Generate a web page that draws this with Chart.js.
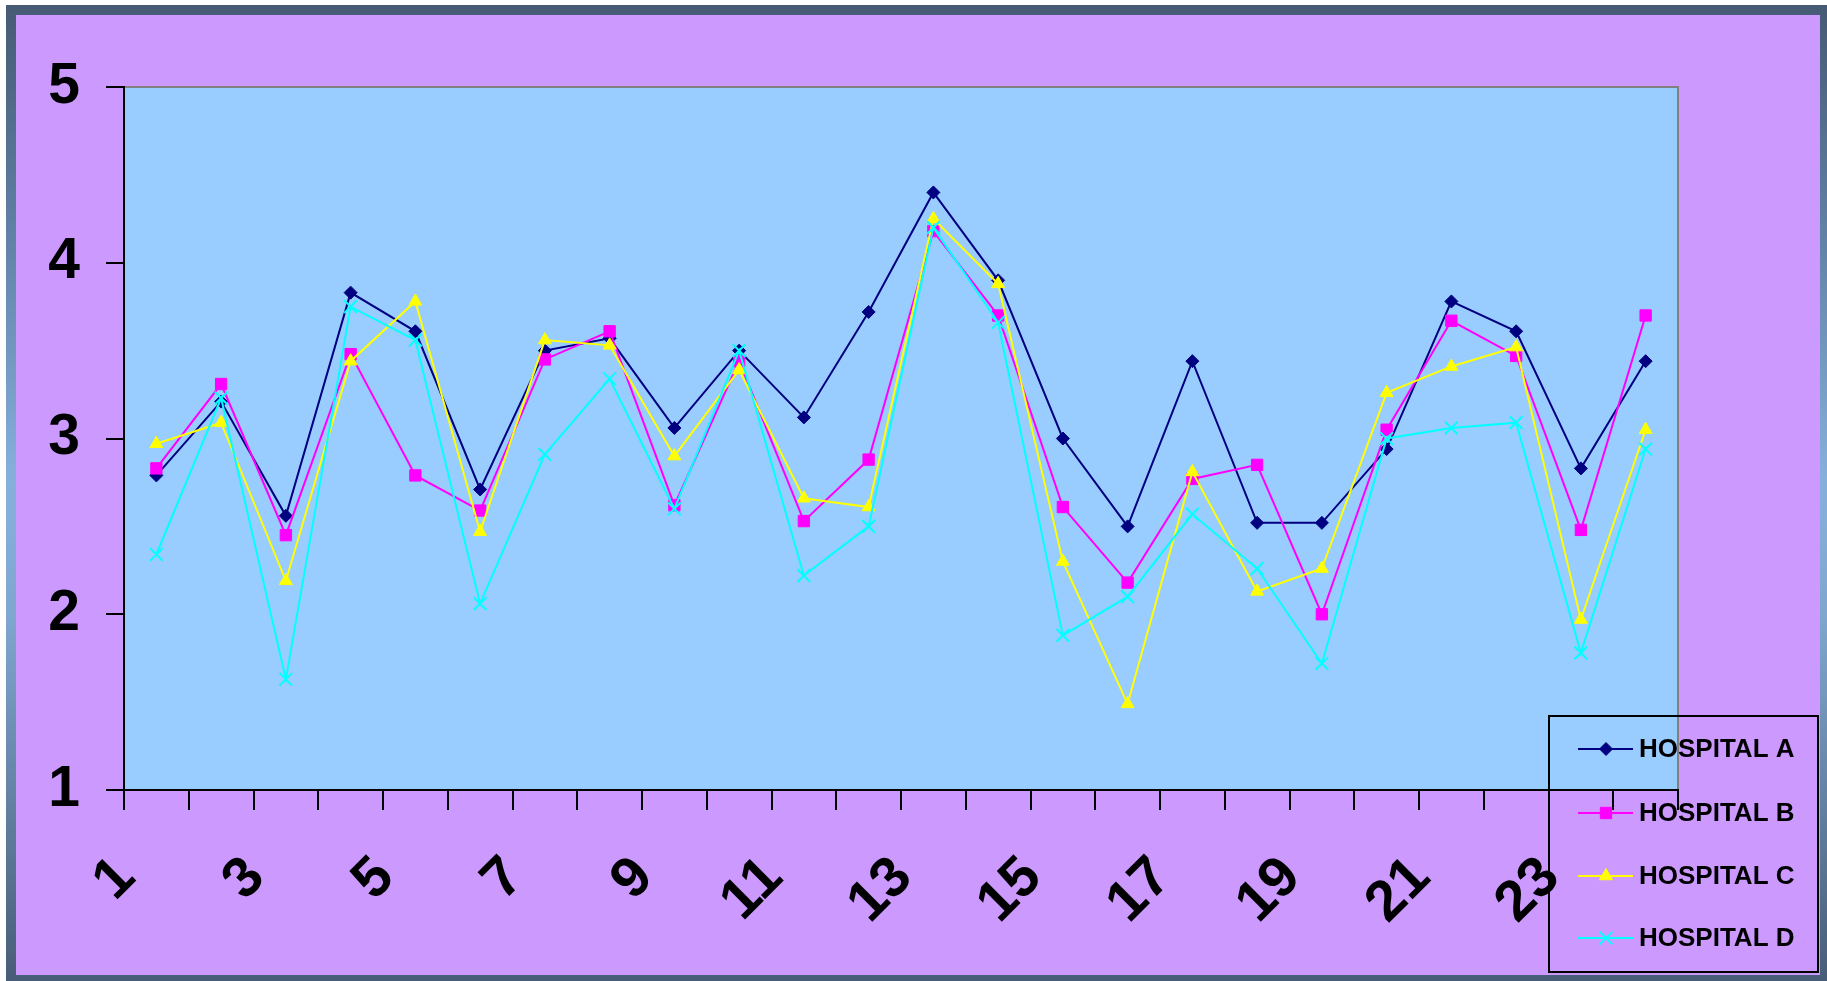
<!DOCTYPE html>
<html>
<head>
<meta charset="utf-8">
<title>Hospital scores</title>
<script src="https://cdn.jsdelivr.net/npm/chart.js"></script>
<style>
    html, body {
        margin: 0;
        padding: 0;
        width: 1827px;
        height: 981px;
        overflow: hidden;
        background: #ffffff;
    }
    .frame {
        position: absolute;
        left: 6px;
        top: 5px;
        width: 1830px;
        height: 990px;
        background: linear-gradient(180deg, #465a74 0%, #5f7fa3 22%, #86b0dc 48%, #7fa6cf 62%, #465a74 100%);
    }
    .chart-box {
        position: absolute;
        left: 16px;
        top: 15px;
        width: 1804px;
        height: 960px;
        background: #cc99ff;
    }
</style>
</head>
<body>
<div class="frame"></div>
<div class="chart-box">
    <canvas id="hospitalChart"></canvas>
</div>

<script>
// ============ Data ============
const categories = ['1', '2', '3', '4', '5', '6', '7', '8', '9', '10', '11', '12',
    '13', '14', '15', '16', '17', '18', '19', '20', '21', '22', '23', '24'];

const hospitalA = [2.79, 3.21, 2.56, 3.83, 3.61, 2.71, 3.50, 3.57, 3.06, 3.50, 3.12, 3.72,
    4.40, 3.90, 3.00, 2.50, 3.44, 2.52, 2.52, 2.94, 3.78, 3.61, 2.83, 3.44];
const hospitalB = [2.83, 3.31, 2.45, 3.48, 2.79, 2.59, 3.45, 3.61, 2.62, 3.44, 2.53, 2.88,
    4.18, 3.70, 2.61, 2.18, 2.77, 2.85, 2.00, 3.05, 3.67, 3.47, 2.48, 3.70];
const hospitalC = [2.97, 3.09, 2.19, 3.44, 3.78, 2.47, 3.56, 3.53, 2.90, 3.39, 2.66, 2.61,
    4.25, 3.88, 2.30, 1.49, 2.81, 2.13, 2.26, 3.26, 3.41, 3.52, 1.97, 3.05];
const hospitalD = [2.34, 3.23, 1.63, 3.75, 3.56, 2.06, 2.91, 3.34, 2.60, 3.50, 2.22, 2.50,
    4.20, 3.66, 1.88, 2.10, 2.57, 2.26, 1.72, 3.00, 3.06, 3.09, 1.78, 2.94];

const yTicks = [1, 2, 3, 4, 5];

const FONT = '"Liberation Sans", Arial, Helvetica, sans-serif';

// ============ Plot area background + frame ============
const plotArea = {
    id: 'plotArea',
    beforeDraw(chart) {
        const { ctx, chartArea: a } = chart;
        ctx.save();
        ctx.fillStyle = '#99ccff';
        ctx.fillRect(a.left, a.top, a.right - a.left, a.bottom - a.top);
        ctx.strokeStyle = '#808080';
        ctx.lineWidth = 2;
        ctx.beginPath();
        ctx.moveTo(a.left, a.top);
        ctx.lineTo(a.right, a.top);
        ctx.lineTo(a.right, a.bottom);
        ctx.stroke();
        ctx.restore();
    }
};

// ============ Boxed legend (bottom right, no fill) ============
const boxLegend = {
    id: 'boxLegend',
    afterDraw(chart) {
        const { ctx } = chart;
        const box = { x: 1533, y: 701, w: 269, h: 256 };
        const rowY = [734, 798, 861, 923];

        ctx.save();
        ctx.strokeStyle = '#000';
        ctx.lineWidth = 2;
        ctx.strokeRect(box.x, box.y, box.w, box.h);

        const sets = chart.data.datasets;
        sets.forEach((ds, i) => {
            const y = rowY[i];
            ctx.strokeStyle = ds.borderColor;
            ctx.lineWidth = 2;
            ctx.beginPath();
            ctx.moveTo(1562, y);
            ctx.lineTo(1617, y);
            ctx.stroke();

            ctx.fillStyle = ds.pointBackgroundColor;
            ctx.strokeStyle = ds.pointBorderColor;
            ctx.lineWidth = ds.pointBorderWidth;
            Chart.helpers.drawPoint(ctx, {
                pointStyle: ds.pointStyle,
                radius: ds.pointRadius,
                borderWidth: ds.pointBorderWidth,
                rotation: 0
            }, 1590, y);

            ctx.fillStyle = '#000';
            ctx.font = 'bold 26px ' + FONT;
            ctx.textAlign = 'left';
            ctx.textBaseline = 'middle';
            ctx.fillText(ds.label, 1623, y + 1);
        });
        ctx.restore();
    }
};

function series(label, data, color, style, radius, order, bw) {
    return {
        label: label,
        data: data,
        borderColor: color,
        backgroundColor: color,
        borderWidth: 2,
        pointStyle: style,
        pointRadius: radius,
        pointHoverRadius: radius,
        pointBackgroundColor: color,
        pointBorderColor: color,
        pointBorderWidth: bw,
        tension: 0,
        fill: false,
        order: order
    };
}

const ctx = document.getElementById('hospitalChart');
new Chart(ctx, {
    type: 'line',
    data: {
        labels: categories,
        datasets: [
            series('HOSPITAL A', hospitalA, '#000080', 'rectRot', 6.5, 4, 1),
            series('HOSPITAL B', hospitalB, '#ff00ff', 'rect', 8, 3, 1),
            series('HOSPITAL C', hospitalC, '#ffff00', 'triangle', 7.5, 2, 1),
            series('HOSPITAL D', hospitalD, '#00ffff', 'crossRot', 9, 1, 2)
        ]
    },
    options: {
        responsive: true,
        maintainAspectRatio: false,
        animation: false,
        devicePixelRatio: 1,
        layout: { padding: { top: 72, right: 142, left: 0, bottom: 0 } },
        plugins: {
            legend: { display: false },
            tooltip: { enabled: false }
        },
        scales: {
            x: {
                offset: true,
                grid: {
                    offset: true,
                    drawOnChartArea: false,
                    drawTicks: true,
                    tickLength: 20,
                    color: '#000',
                    lineWidth: 2
                },
                border: { display: true, color: '#000', width: 2 },
                ticks: {
                    autoSkip: false,
                    minRotation: 45,
                    maxRotation: 45,
                    labelOffset: -30,
                    padding: 34,
                    color: '#000',
                    font: { family: FONT, size: 57, weight: 'bold' },
                    callback: (v, i) => (i % 2 === 0 ? categories[i] : '')
                },
                afterFit: (scale) => { scale.height = 185; }
            },
            y: {
                min: yTicks[0],
                max: yTicks[yTicks.length - 1],
                grid: {
                    drawOnChartArea: false,
                    drawTicks: true,
                    tickLength: 18,
                    color: '#000',
                    lineWidth: 2
                },
                border: { display: true, color: '#000', width: 2 },
                ticks: {
                    stepSize: 1,
                    padding: 26,
                    color: '#000',
                    font: { family: FONT, size: 57, weight: 'bold' }
                },
                afterBuildTicks: (scale) => {
                    scale.ticks = yTicks.map((v) => ({ value: v }));
                },
                afterFit: (scale) => { scale.width = 108; }
            }
        }
    },
    plugins: [plotArea, boxLegend]
});
</script>
</body>
</html>
